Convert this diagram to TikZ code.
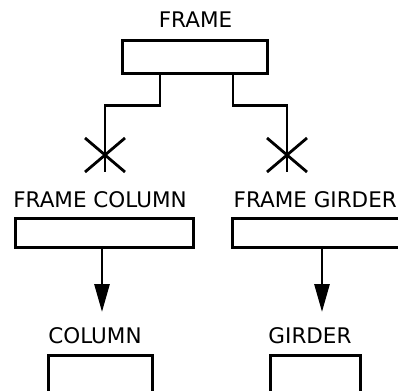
\documentclass[tikz,border=0pt]{standalone}
\usepackage{fontspec}
\setmainfont{DejaVu Sans}
\usetikzlibrary{arrows.meta}
\begin{document}
\begin{tikzpicture}[x=1pt,y=-1pt,
  box/.style={draw,line width=3pt,rectangle,inner sep=0pt},
  lbl/.style={inner sep=0pt,font=\fontsize{21.5}{26}\selectfont},
  conn/.style={line width=2.8pt},
  arr/.style={line width=2.8pt,-{Triangle[length=28pt,width=15pt]}}]
\useasboundingbox (0,0) rectangle (398,390);
% labels
\node[lbl,anchor=base] (tFrame) at (195.5,28) {FRAME};
\node[lbl,anchor=base] (tFC) at (100,207) {FRAME COLUMN};
\node[lbl,anchor=base east] (tFG) at (397,207) {FRAME GIRDER};
\node[lbl,anchor=base] (tCol) at (95,343) {COLUMN};
\node[lbl,anchor=base] (tGir) at (310,343) {GIRDER};
% boxes
\node[box,minimum width=145pt,minimum height=33pt] (frame) at (194.5,57.5) {};
\node[box,minimum width=178pt,minimum height=29pt] (fc) at (104,232.5) {};
\node[box,minimum width=178pt,minimum height=29pt] (fg) at (321,232.5) {};
\node[box,minimum width=104pt,minimum height=40pt] (col) at (100,375) {};
\node[box,minimum width=90pt,minimum height=40pt] (gir) at (315,375) {};
% asterisk centres
\coordinate (xl) at (105,155);
\coordinate (xr) at (287,155);
% connectors
\draw[conn] ([xshift=-34.5pt]frame.south) -- ++(0,30) -| ([yshift=-17pt]xl);
\draw[conn] ([xshift=38.5pt]frame.south) -- ++(0,30) -| ([yshift=-17pt]xr);
\foreach \c in {xl,xr}{
  \draw[conn] ([yshift=17pt]\c) -- ([yshift=-17pt]\c);
  \draw[conn] ([shift={(-20,-17)}]\c) -- ([shift={(20,17)}]\c);
  \draw[conn] ([shift={(20,-17)}]\c) -- ([shift={(-20,17)}]\c);
}
\draw[arr] ([xshift=-2pt]fc.south) -- ([xshift=-2pt]fc.south |- 0,312);
\draw[arr] ([xshift=1pt]fg.south) -- ([xshift=1pt]fg.south |- 0,312);
\end{tikzpicture}
\end{document}
